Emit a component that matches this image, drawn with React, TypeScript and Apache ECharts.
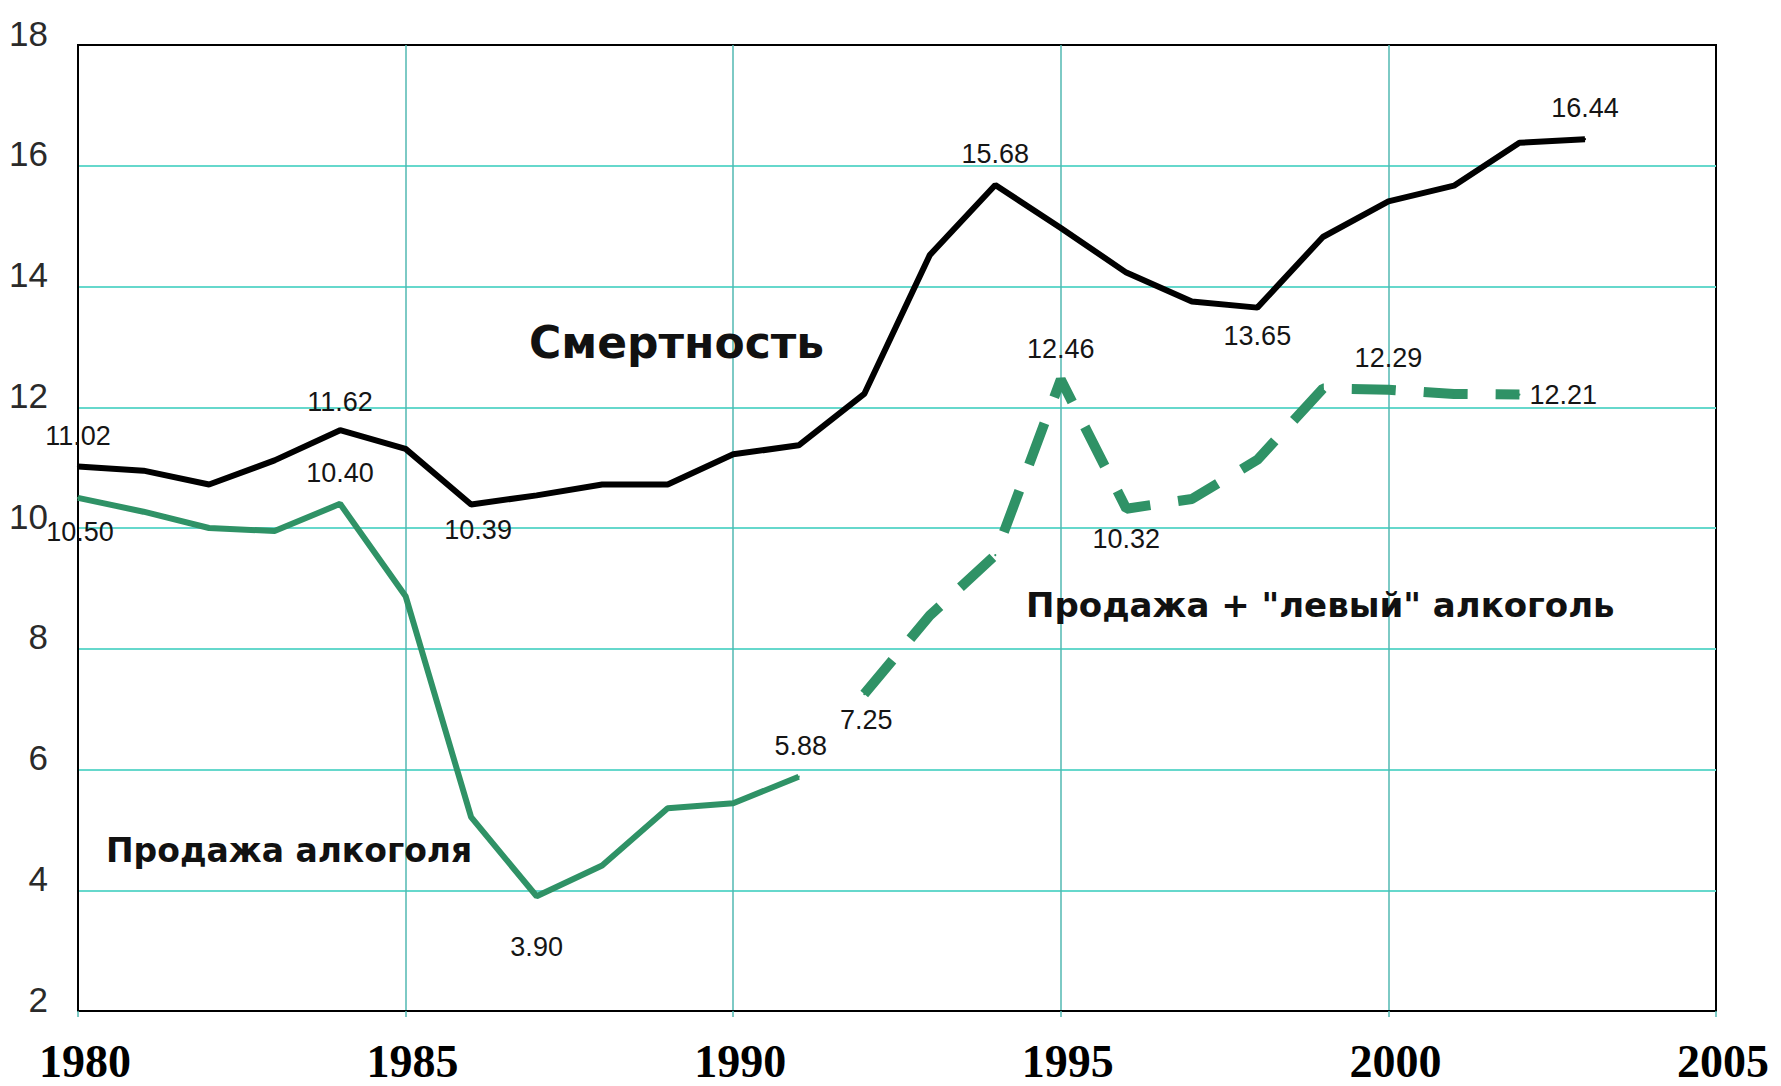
import React, { useEffect, useRef } from 'react';
import * as echarts from 'echarts';

// ---- data ----
const mortalityYears = [1980, 1981, 1982, 1983, 1984, 1985, 1986, 1987, 1988, 1989, 1990, 1991, 1992, 1993, 1994, 1995, 1996, 1997, 1998, 1999, 2000, 2001, 2002, 2003];
const mortality = [11.02, 10.95, 10.72, 11.12, 11.62, 11.31, 10.39, 10.54, 10.72, 10.72, 11.22, 11.37, 12.22, 14.52, 15.68, 14.97, 14.23, 13.75, 13.65, 14.82, 15.41, 15.67, 16.38, 16.44];

const salesYears = [1980, 1981, 1982, 1983, 1984, 1985, 1986, 1987, 1988, 1989, 1990, 1991];
const sales = [10.5, 10.27, 10.0, 9.95, 10.4, 8.87, 5.21, 3.9, 4.41, 5.36, 5.44, 5.88];

const totalYears = [1992, 1993, 1994, 1995, 1996, 1997, 1998, 1999, 2000, 2001, 2002];
const total = [7.25, 8.55, 9.55, 12.46, 10.32, 10.48, 11.13, 12.31, 12.29, 12.22, 12.21];

const xMin = 1980;
const xMax = 2005;
const xStep = 5;
const yMin = 2;
const yMax = 18;
const yStep = 2;

const titleMortality = 'Смертность';
const titleSales = 'Продажа алкоголя';
const titleTotal = 'Продажа + "левый" алкоголь';

// which points carry a value label, and where
type LabelCfg = { pos: string; dist: number; dx?: number };
const mortalityLabels: Record<number, LabelCfg> = {
  1980: { pos: 'top', dist: 15 },
  1984: { pos: 'top', dist: 13 },
  1986: { pos: 'bottom', dist: 11, dx: 7 },
  1994: { pos: 'top', dist: 16 },
  1998: { pos: 'bottom', dist: 13 },
  2003: { pos: 'top', dist: 16 },
};
const salesLabels: Record<number, LabelCfg> = {
  1980: { pos: 'bottom', dist: 19, dx: 2 },
  1984: { pos: 'top', dist: 16 },
  1987: { pos: 'bottom', dist: 36 },
  1991: { pos: 'top', dist: 16, dx: 2 },
};
const totalLabels: Record<number, LabelCfg> = {
  1992: { pos: 'bottom', dist: 11, dx: 2 },
  1995: { pos: 'top', dist: 15 },
  1996: { pos: 'bottom', dist: 15 },
  2000: { pos: 'top', dist: 17 },
  2002: { pos: 'right', dist: 9 },
};

const LABEL_FONT = "'Liberation Sans Narrow', 'Liberation Sans', Arial, sans-serif";
const BOLD_FONT = "'DejaVu Sans', Verdana, sans-serif";

function buildData(years: number[], values: number[], labels: Record<number, LabelCfg>) {
  return years.map((yr, i) => {
    const cfg = labels[yr];
    return {
      value: [yr, values[i]],
      label: cfg
        ? { show: true, position: cfg.pos, distance: cfg.dist, offset: [cfg.dx || 0, 0] }
        : { show: false },
    };
  });
}

const seriesLabel = {
  show: false,
  fontFamily: LABEL_FONT,
  fontSize: 27,
  lineHeight: 28,
  color: '#151515',
  formatter: (p: any) => Number(p.value[1]).toFixed(2),
};

export default function App() {
  const ref = useRef<HTMLDivElement>(null);

  useEffect(() => {
    if (!ref.current) return;
    const chart = echarts.init(ref.current, undefined, { renderer: 'svg' });
    const green = '#2f9266';
    const hGrid = '#66d8cc';
    const vGrid = '#52b8b2';

    chart.setOption({
      animation: false,
      backgroundColor: '#ffffff',
      grid: {
        left: 78,
        right: 65,
        top: 45,
        bottom: 75,
        show: true,
        borderColor: '#000',
        borderWidth: 2,
        backgroundColor: 'transparent',
        containLabel: false,
        outerBoundsMode: 'none',
      },
      xAxis: {
        type: 'value',
        min: xMin,
        max: xMax,
        interval: xStep,
        axisLine: { show: true, lineStyle: { color: '#000', width: 2 } },
        axisTick: { show: true, length: 6, lineStyle: { color: vGrid, width: 1.5 } },
        splitLine: { show: true, showMinLine: false, showMaxLine: false, lineStyle: { color: vGrid, width: 1.5 } },
        axisLabel: {
          show: true,
          margin: 30,
          fontFamily: "'Liberation Serif', 'Times New Roman', serif",
          fontWeight: 'bold',
          fontSize: 46,
          lineHeight: 40,
          color: '#000',
          padding: [0, 0, 0, 14],
          formatter: (v: number) => String(v),
        },
      },
      yAxis: {
        type: 'value',
        min: yMin,
        max: yMax,
        interval: yStep,
        axisLine: { show: true, lineStyle: { color: '#000', width: 2 } },
        axisTick: { show: false },
        splitLine: { show: true, showMinLine: false, showMaxLine: false, lineStyle: { color: hGrid, width: 2 } },
        axisLabel: {
          show: true,
          margin: 30,
          fontFamily: LABEL_FONT,
          fontSize: 35,
          lineHeight: 24,
          verticalAlign: 'bottom',
          color: '#2a2a2a',
        },
      },
      series: [
        {
          name: titleMortality,
          type: 'line',
          data: buildData(mortalityYears, mortality, mortalityLabels),
          symbol: 'circle',
          symbolSize: 2,
          showSymbol: true,
          itemStyle: { color: '#000' },
          lineStyle: { color: '#000', width: 6 },
          label: seriesLabel,
          z: 5,
        },
        {
          name: titleSales,
          type: 'line',
          data: buildData(salesYears, sales, salesLabels),
          symbol: 'circle',
          symbolSize: 2,
          showSymbol: true,
          itemStyle: { color: green },
          lineStyle: { color: green, width: 6 },
          label: seriesLabel,
          z: 4,
        },
        {
          name: titleTotal,
          type: 'line',
          data: buildData(totalYears, total, totalLabels),
          symbol: 'circle',
          symbolSize: 2,
          showSymbol: true,
          itemStyle: { color: green },
          lineStyle: { color: green, width: 10, type: [44, 28], cap: 'butt' },
          label: seriesLabel,
          z: 4,
        },
      ],
      graphic: [
        {
          type: 'text',
          x: 529,
          y: 342,
          z: 10,
          style: {
            text: titleMortality,
            font: `bold 44px ${BOLD_FONT}`,
            fill: '#111',
            textAlign: 'left',
            textVerticalAlign: 'middle',
          },
        },
        {
          type: 'text',
          x: 106,
          y: 850,
          z: 10,
          style: {
            text: titleSales,
            font: `bold 33px ${BOLD_FONT}`,
            fill: '#111',
            textAlign: 'left',
            textVerticalAlign: 'middle',
          },
        },
        {
          type: 'text',
          x: 1026,
          y: 605,
          z: 10,
          style: {
            text: titleTotal,
            font: `bold 34px ${BOLD_FONT}`,
            fill: '#111',
            textAlign: 'left',
            textVerticalAlign: 'middle',
          },
        },
      ],
    });

    return () => chart.dispose();
  }, []);

  return (
    <div
      ref={ref}
      style={{ position: 'absolute', left: 0, top: 0, width: 1781, height: 1086, background: '#fff' }}
    />
  );
}
